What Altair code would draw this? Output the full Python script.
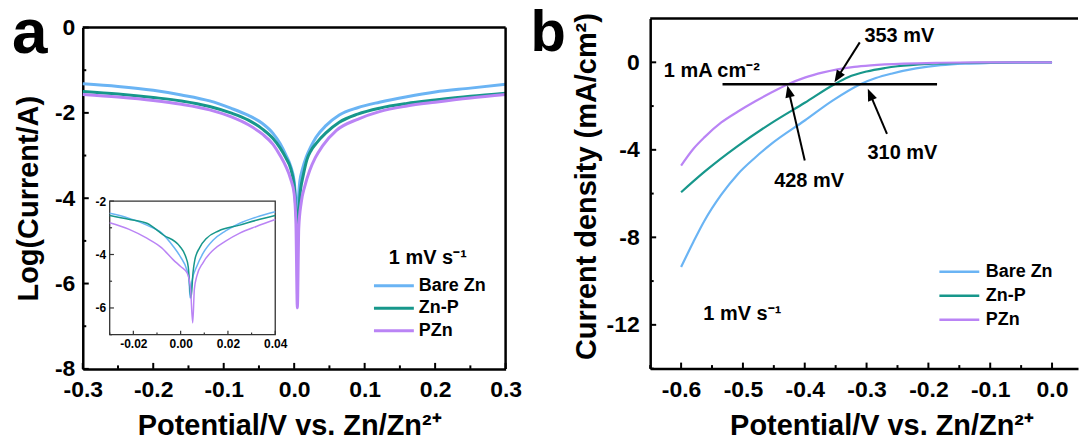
import math
import altair as alt
import pandas as pd

FONT = "Liberation Sans"
SERIES = ["Bare Zn", "Zn-P", "PZn"]
COLORS = ["#6ab4f4", "#17978b", "#ba84f5"]

# ---------------- panel a : main plot ----------------
a_bare_x = [-0.3, -0.25, -0.2, -0.16, -0.12, -0.09, -0.065, -0.045, -0.03, -0.02, -0.012, -0.005, 0.0,
            0.004, 0.008, 0.012, 0.017, 0.024, 0.031, 0.045, 0.064, 0.09, 0.121, 0.16, 0.2, 0.25, 0.3]
a_bare_y = [-1.32, -1.38, -1.47, -1.58, -1.72, -1.89, -2.06, -2.25, -2.48, -2.72, -2.98, -3.25, -3.6,
            -4.3, -3.6, -3.3, -3.04, -2.78, -2.57, -2.3, -2.05, -1.88, -1.75, -1.62, -1.51, -1.42, -1.33]
a_znp_x = [-0.3, -0.25, -0.2, -0.16, -0.12, -0.09, -0.065, -0.045, -0.03, -0.02, -0.012, -0.005, 0.0,
           0.0045, 0.009, 0.013, 0.018, 0.024, 0.031, 0.045, 0.064, 0.09, 0.121, 0.16, 0.2, 0.25, 0.3]
a_znp_y = [-1.50, -1.56, -1.64, -1.72, -1.85, -2.0, -2.17, -2.38, -2.6, -2.82, -3.05, -3.3, -3.7,
           -4.6, -3.8, -3.45, -3.1, -2.88, -2.72, -2.47, -2.22, -2.03, -1.89, -1.78, -1.70, -1.61, -1.54]
a_pzn_x = [-0.3, -0.25, -0.2, -0.16, -0.12, -0.09, -0.065, -0.045, -0.03, -0.02, -0.012, -0.005, 0.0,
           0.0025, 0.0045, 0.0065, 0.01, 0.015, 0.022, 0.03, 0.04, 0.06, 0.09, 0.121, 0.16, 0.2, 0.25, 0.3]
a_pzn_y = [-1.57, -1.63, -1.71, -1.80, -1.93, -2.09, -2.28, -2.50, -2.74, -3.0, -3.25, -3.55, -3.9,
           -4.6, -6.57, -4.7, -4.1, -3.72, -3.35, -3.05, -2.78, -2.41, -2.15, -1.97, -1.84, -1.75, -1.65, -1.57]

# ---------------- panel a : inset ----------------
i_bare_x = [-0.03, -0.022, -0.0143, -0.008, -0.0031, 0.0, 0.0026, 0.0035, 0.004, 0.0048, 0.0068,
            0.0095, 0.0138, 0.019, 0.025, 0.032, 0.04]
i_bare_y = [-2.46, -2.64, -2.90, -3.2, -3.70, -4.1, -4.57, -4.9, -5.63, -5.0, -4.45,
            -3.95, -3.46, -3.12, -2.83, -2.6, -2.40]
i_znp_x = [-0.03, -0.022, -0.0143, -0.0073, -0.0003, 0.002, 0.0032, 0.0044, 0.0052, 0.006, 0.008,
           0.011, 0.016, 0.025, 0.032, 0.04]
i_znp_y = [-2.54, -2.68, -2.83, -3.27, -3.70, -4.05, -4.45, -5.63, -4.7, -4.2, -3.75,
           -3.39, -3.12, -2.9, -2.72, -2.54]
i_pzn_x = [-0.03, -0.022, -0.0143, -0.008, -0.0031, 0.0, 0.0028, 0.0042, 0.0051, 0.0058, 0.0068,
           0.0095, 0.0138, 0.019, 0.025, 0.032, 0.04]
i_pzn_y = [-2.81, -3.05, -3.39, -3.75, -4.2, -4.45, -4.7, -5.3, -6.56, -5.3, -4.82,
           -4.3, -3.83, -3.5, -3.2, -2.95, -2.69]

# ---------------- panel b ----------------
b_bare_x = [-0.6, -0.58, -0.562, -0.535, -0.508, -0.48, -0.454, -0.4, -0.355, -0.31, -0.285, -0.26,
            -0.22, -0.18, -0.14, -0.1, -0.05, 0.0]
b_bare_y = [-9.36, -8.2, -7.23, -6.05, -5.1, -4.35, -3.73, -2.66, -1.75, -1.0, -0.72, -0.52,
            -0.28, -0.13, -0.06, -0.03, -0.01, 0.0]
b_znp_x = [-0.6, -0.562, -0.508, -0.454, -0.4, -0.352, -0.33, -0.3, -0.27, -0.25, -0.2, -0.15, -0.1, 0.0]
b_znp_y = [-5.94, -5.0, -3.82, -2.78, -1.85, -1.0, -0.68, -0.42, -0.26, -0.18, -0.07, -0.03, -0.01, 0.0]
b_pzn_x = [-0.6, -0.58, -0.562, -0.535, -0.508, -0.48, -0.454, -0.427, -0.4, -0.37, -0.347, -0.32,
           -0.293, -0.24, -0.18, -0.1, 0.0]
b_pzn_y = [-4.72, -3.95, -3.42, -2.75, -2.25, -1.78, -1.38, -1.0, -0.7, -0.46, -0.32, -0.21,
           -0.14, -0.06, -0.02, 0.0, 0.0]

hline_x = [-0.533, -0.186]
hline_y = -1.0
arr_tail_x = [-0.311, -0.400, -0.267]
arr_tail_y = [0.91, -4.49, -3.27]
arr_tip_x = [-0.352, -0.428, -0.298]
arr_tip_y = [-0.91, -1.06, -1.21]
lab_text = ["353 mV", "428 mV", "310 mV"]
lab_x = [-0.247, -0.393, -0.242]
lab_y = [0.91, -5.71, -4.41]
note_text = ["1 mA cm⁻²", "1 mV s⁻¹"]
note_x = [-0.628, -0.564]
note_y = [-0.65, -11.76]

# ---------------- axes ----------------
A_X = [-0.3, 0.3]
A_Y = [-8, 0]
I_X = [-0.03, 0.04]
I_Y = [-7, -2]
B_X = [-0.65, 0.042]
B_Y = [-14, 2]
a_x_major = [-0.3, -0.2, -0.1, 0.0, 0.1, 0.2, 0.3]
a_x_minor = [-0.25, -0.15, -0.05, 0.05, 0.15, 0.25]
a_y_major = [0, -2, -4, -6, -8]
a_y_minor = [-1, -3, -5, -7]
i_x_major = [-0.02, 0.0, 0.02, 0.04]
i_x_minor = [-0.03, -0.01, 0.01, 0.03]
i_y_major = [-2, -4, -6]
i_y_minor = [-3, -5, -7]
b_x_major = [-0.6, -0.5, -0.4, -0.3, -0.2, -0.1, 0.0]
b_x_minor = [-0.65, -0.55, -0.45, -0.35, -0.25, -0.15, -0.05]
b_y_major = [0, -4, -8, -12]
b_y_minor = [-2, -6, -10, -14]

# ---------------- layout (pixels) ----------------
ORG_Y = 17.7                     # common top of both panel groups on the page
A_LEFT, B_LEFT = 82.6, 650.9     # frame left edges on the page
A_RIGHT_EDGE = 528.6             # right limit of panel a's layout box
W_A, H_A = 424, 351.3            # panel a group (frame starts AY0 below its top)
AY0 = 9.0
W_B, H_B = 429, 351
INSET_XR = [27, 193]
INSET_YR = [317, 183]
FRAME = 2.5


def long_df(parts):
    rows = []
    for name, xs, ys in parts:
        for i, (x, y) in enumerate(zip(xs, ys)):
            rows.append({"x": x, "y": y, "s": name, "o": i})
    return pd.DataFrame(rows)


def fmt_expr(spec):
    return "replace(format(datum.value, '%s'), '\u2212', '-')" % spec


def axis(orient, values, spec, title, **kw):
    base = dict(orient=orient, values=values, labelExpr=fmt_expr(spec), title=title,
                labelFont=FONT, labelFontSize=23, labelFontWeight="bold", labelColor="black",
                titleFont=FONT, titleFontSize=29, titleFontWeight="bold", titleColor="black",
                ticks=False, tickSize=0, domain=True, domainColor="black", domainWidth=FRAME,
                grid=False, labelFlush=False, labelOverlap=False)
    base.update(kw)
    return alt.Axis(**base)


def sc(domain, rng=None):
    if rng is None:
        return alt.Scale(domain=domain, nice=False, zero=False)
    return alt.Scale(domain=domain, range=rng, nice=False, zero=False)


def tick_rules(vals, channel, scale, length, plot_h=None, width=2):
    df = pd.DataFrame({channel: vals})
    m = alt.Chart(df).mark_rule(color="black", strokeWidth=width)
    if channel == "x":
        return m.encode(x=alt.X("x:Q", scale=scale),
                        y=alt.value(plot_h), y2=alt.value(plot_h - length))
    return m.encode(y=alt.Y("y:Q", scale=scale),
                    x=alt.value(0), x2=alt.value(length))


def anchor(x, y):
    # invisible layout anchor: fixes the panel's layout box edge
    return alt.Chart(pd.DataFrame({"k": [0]})).mark_rule(opacity=0, strokeWidth=0.01).encode(
        x=alt.value(x), x2=alt.value(x), y=alt.value(y), y2=alt.value(y + 1))


color_a = alt.Color("s:N", scale=alt.Scale(domain=SERIES, range=COLORS),
                    legend=alt.Legend(orient="none", legendX=288, legendY=230, title="1 mV s⁻¹",
                                      titleFont=FONT, titleFontSize=20, titleFontWeight="bold",
                                      titleColor="black", titleAnchor="middle", titlePadding=9,
                                      labelFont=FONT, labelFontSize=18, labelFontWeight="bold",
                                      labelColor="black", symbolType="M-1,0H7", symbolSize=100,
                                      symbolStrokeWidth=3, labelOffset=31, rowPadding=4.5, padding=0))

# ---------- panel a main layer ----------
sxa, sya = sc(A_X), sc(A_Y, [H_A, AY0])
curves_a = alt.Chart(long_df([("Bare Zn", a_bare_x, a_bare_y), ("Zn-P", a_znp_x, a_znp_y),
                              ("PZn", a_pzn_x, a_pzn_y)])).mark_line(
    strokeWidth=3, interpolate="monotone").encode(
    x=alt.X("x:Q", scale=sxa,
            axis=axis("bottom", a_x_major, ".1f", "Potential/V vs. Zn/Zn²⁺",
                      labelPadding=10, titlePadding=10, titleX=207)),
    y=alt.Y("y:Q", scale=sya,
            axis=axis("left", a_y_major, "d", "Log(Current/A)", labelPadding=8, titlePadding=11,
                      titleY=AY0 + (H_A - AY0) / 2)),
    color=color_a, detail="s:N")

top_a = alt.Chart(pd.DataFrame({"k": [0]})).mark_rule(color="black", strokeWidth=FRAME).encode(
    y=alt.value(AY0))
right_a = alt.Chart(pd.DataFrame({"k": [0]})).mark_rule(color="black", strokeWidth=FRAME).encode(
    x=alt.value(W_A), y=alt.value(AY0), y2=alt.value(H_A))
letter_a = alt.Chart(pd.DataFrame({"t": ["a"]})).mark_text(
    font=FONT, fontSize=64, fontWeight="bold", align="left", baseline="alphabetic", color="black").encode(
    text="t:N", x=alt.value(-71), y=alt.value(35))

main_a = alt.layer(
    curves_a,
    tick_rules(a_x_major, "x", sxa, 6, H_A), tick_rules(a_x_minor, "x", sxa, 3.5, H_A),
    tick_rules(a_y_major, "y", sya, 6), tick_rules(a_y_minor, "y", sya, 3.5),
    top_a, right_a, letter_a,
    anchor(-A_LEFT, -ORG_Y), anchor(A_RIGHT_EDGE - A_LEFT, 100))

# ---------- panel a inset layer ----------
sxi, syi = sc(I_X, INSET_XR), sc(I_Y, INSET_YR)
inset_box = alt.Chart(pd.DataFrame({"x": [I_X[0]], "x2": [I_X[1]], "y": [I_Y[0]], "y2": [I_Y[1]]})).mark_rect(
    fill="white", stroke="#333333", strokeWidth=1.3).encode(
    x=alt.X("x:Q", scale=sxi,
            axis=alt.Axis(orient="bottom", offset=-(H_A - INSET_YR[0]), values=i_x_major,
                          labelExpr=fmt_expr(".2f"), title=None, labelFont=FONT, labelFontSize=12,
                          labelFontWeight="bold", labelColor="black", ticks=False, tickSize=0,
                          domain=False, grid=False, labelPadding=4, labelFlush=False)),
    x2="x2:Q",
    y=alt.Y("y:Q", scale=syi,
            axis=alt.Axis(orient="left", offset=-INSET_XR[0], values=i_y_major,
                          labelExpr=fmt_expr("d"), title=None, labelFont=FONT, labelFontSize=12,
                          labelFontWeight="bold", labelColor="black", ticks=False, tickSize=0,
                          domain=False, grid=False, labelPadding=4, labelFlush=False)),
    y2="y2:Q")
curves_i = alt.Chart(long_df([("Bare Zn", i_bare_x, i_bare_y), ("Zn-P", i_znp_x, i_znp_y),
                              ("PZn", i_pzn_x, i_pzn_y)])).mark_line(
    strokeWidth=1.5, interpolate="monotone").encode(
    x=alt.X("x:Q", scale=sxi), y=alt.Y("y:Q", scale=syi),
    color=alt.Color("s:N", scale=alt.Scale(domain=SERIES, range=COLORS), legend=None), detail="s:N")


def inset_ticks(vals, channel, length):
    df = pd.DataFrame({channel: vals})
    m = alt.Chart(df).mark_rule(color="#333333", strokeWidth=1.2)
    if channel == "x":
        return m.encode(x=alt.X("x:Q", scale=sxi),
                        y=alt.datum(I_Y[0]), y2=alt.datum(I_Y[0] + length))
    return m.encode(y=alt.Y("y:Q", scale=syi),
                    x=alt.datum(I_X[0]), x2=alt.datum(I_X[0] + length))


inset_a = alt.layer(inset_box, curves_i,
                    inset_ticks(i_x_major, "x", 0.15), inset_ticks(i_x_minor, "x", 0.08),
                    inset_ticks(i_y_major, "y", 0.0018), inset_ticks(i_y_minor, "y", 0.001))

panel_a = alt.layer(main_a, inset_a).resolve_scale(x="independent", y="independent").properties(
    width=W_A, height=H_A)

# ---------- panel b ----------
sxb, syb = sc(B_X), sc(B_Y)
color_b = alt.Color("s:N", scale=alt.Scale(domain=SERIES, range=COLORS),
                    legend=alt.Legend(orient="none", legendX=286, legendY=245, title=None,
                                      labelFont=FONT, labelFontSize=18, labelFontWeight="bold",
                                      labelColor="black", symbolType="M-1,0H7", symbolSize=100,
                                      symbolStrokeWidth=2.5, labelOffset=32.5, rowPadding=6, padding=0))
curves_b = alt.Chart(long_df([("Bare Zn", b_bare_x, b_bare_y), ("Zn-P", b_znp_x, b_znp_y),
                              ("PZn", b_pzn_x, b_pzn_y)])).mark_line(
    strokeWidth=2.2, interpolate="monotone").encode(
    x=alt.X("x:Q", scale=sxb,
            axis=axis("bottom", b_x_major, ".1f", "Potential/V vs. Zn/Zn²⁺",
                      labelPadding=10, titlePadding=10, titleX=232)),
    y=alt.Y("y:Q", scale=syb,
            axis=axis("left", b_y_major, "d", "Current density (mA/cm²)", labelPadding=11,
                      titlePadding=5, titleY=168)),
    color=color_b, detail="s:N")

hline = alt.Chart(pd.DataFrame({"x": [hline_x[0]], "x2": [hline_x[1]], "y": [hline_y]})).mark_rule(
    color="black", strokeWidth=2.5).encode(x=alt.X("x:Q", scale=sxb), x2="x2:Q",
                                           y=alt.Y("y:Q", scale=syb))

PXX = W_B / (B_X[1] - B_X[0])
PXY = H_B / (B_Y[1] - B_Y[0])
HEAD_LEN = 12.0
shaft_rows, head_rows = [], []
for tx, ty, hx, hy in zip(arr_tail_x, arr_tail_y, arr_tip_x, arr_tip_y):
    dxp = (hx - tx) * PXX
    dyp = -(hy - ty) * PXY
    lenp = math.hypot(dxp, dyp)
    f = 1 - (HEAD_LEN * 0.6) / lenp
    shaft_rows.append({"x": tx, "y": ty, "x2": tx + (hx - tx) * f, "y2": ty + (hy - ty) * f})
    ang = (math.degrees(math.atan2(dxp, -dyp)) + 360) % 360
    head_rows.append({"x": hx, "y": hy, "ang": ang})

shafts = alt.Chart(pd.DataFrame(shaft_rows)).mark_rule(color="black", strokeWidth=2).encode(
    x=alt.X("x:Q", scale=sxb), y=alt.Y("y:Q", scale=syb), x2="x2:Q", y2="y2:Q")
heads = alt.Chart(pd.DataFrame(head_rows)).mark_point(
    shape="M0,0L-0.8,2L0.8,2Z", filled=True, size=144, color="black", opacity=1, strokeWidth=0).encode(
    x=alt.X("x:Q", scale=sxb), y=alt.Y("y:Q", scale=syb),
    angle=alt.Angle("ang:Q", scale=None))
labels_b = alt.Chart(pd.DataFrame({"t": lab_text, "x": lab_x, "y": lab_y})).mark_text(
    font=FONT, fontSize=20, fontWeight="bold", align="center", baseline="alphabetic", color="black").encode(
    x=alt.X("x:Q", scale=sxb), y=alt.Y("y:Q", scale=syb), text="t:N")
notes_b = alt.Chart(pd.DataFrame({"t": note_text, "x": note_x, "y": note_y})).mark_text(
    font=FONT, fontSize=20, fontWeight="bold", align="left", baseline="alphabetic", color="black").encode(
    x=alt.X("x:Q", scale=sxb), y=alt.Y("y:Q", scale=syb), text="t:N")
top_b = alt.Chart(pd.DataFrame({"k": [0]})).mark_rule(color="black", strokeWidth=FRAME).encode(y=alt.value(0))
letter_b = alt.Chart(pd.DataFrame({"t": ["b"]})).mark_text(
    font=FONT, fontSize=58, fontWeight="bold", align="left", baseline="alphabetic", color="black").encode(
    text="t:N", x=alt.value(-120), y=alt.value(32.3))

panel_b = alt.layer(
    curves_b, hline, shafts, heads, labels_b, notes_b,
    tick_rules(b_x_major, "x", sxb, 6, H_B), tick_rules(b_x_minor, "x", sxb, 3.5, H_B),
    tick_rules(b_y_major, "y", syb, 6), tick_rules(b_y_minor, "y", syb, 3.5),
    top_b, letter_b, anchor(A_RIGHT_EDGE - B_LEFT, -ORG_Y)).properties(width=W_B, height=H_B)

chart = alt.concat(panel_a, panel_b, columns=2, spacing=0, align="none").resolve_scale(
    color="independent").resolve_legend(color="independent").properties(
    padding={"left": 0, "top": 0, "right": 0, "bottom": 0}).configure(font=FONT).configure_view(stroke=None)

chart.save("out.html", embed_options={"renderer": "svg", "actions": False})
